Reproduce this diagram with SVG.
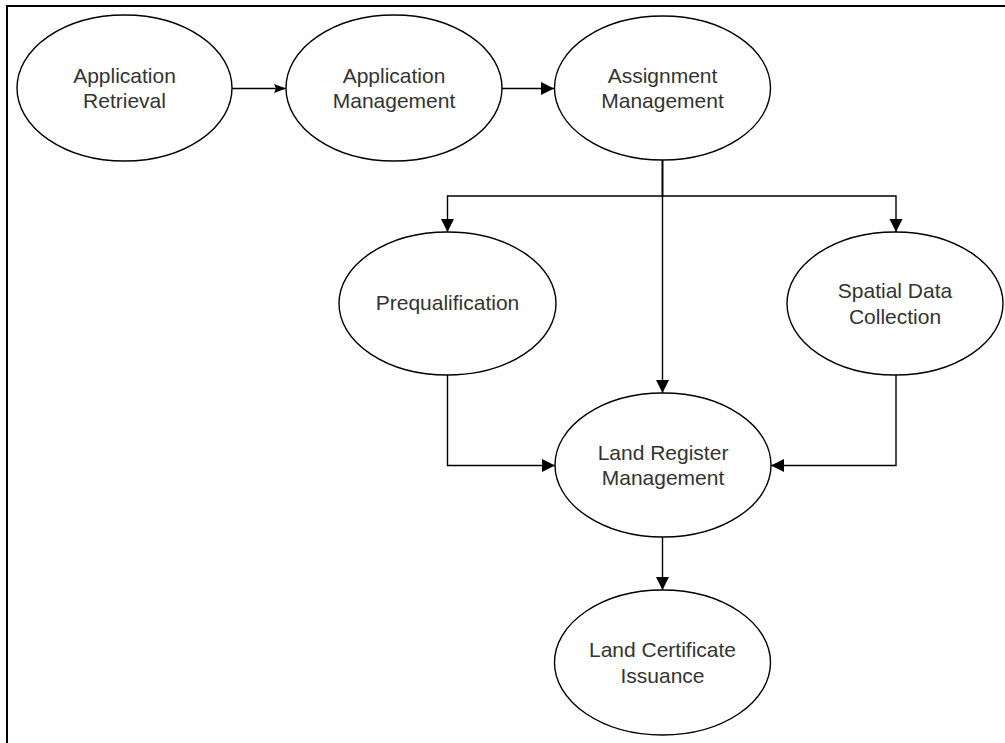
<svg xmlns="http://www.w3.org/2000/svg" width="1005" height="743" viewBox="0 0 1005 743">
<style>
.node ellipse{fill:#fff;stroke:#000;stroke-width:1.4}
.node text{font-family:"Liberation Sans",Arial,sans-serif;font-size:21px;fill:#333;text-anchor:middle}
.edge{fill:none;stroke:#000;stroke-width:1.4}
.frame{fill:none;stroke:#000;stroke-width:2}
</style>
<defs>
<marker id="ah" markerUnits="userSpaceOnUse" markerWidth="14" markerHeight="14" refX="13" refY="6.5" orient="auto">
<path d="M0,0 L13,6.5 L0,13 z" fill="#000"/>
</marker>
<marker id="ahs" markerUnits="userSpaceOnUse" markerWidth="14" markerHeight="10" refX="12" refY="4.5" orient="auto">
<path d="M0,0 L12,4.5 L0,9 L2,4.5 z" fill="#000"/>
</marker>
</defs>
<rect width="1005" height="743" fill="#fff"/>
<path class="frame" d="M7,743 L7,6 L1005,6"/>
<g id="connectors">
<path class="edge" d="M232,88.5 L286,88.5" marker-end="url(#ahs)"/>
<path class="edge" d="M502,88.5 L554,88.5" marker-end="url(#ah)"/>
<path class="edge" d="M662.5,160 L662.5,393" marker-end="url(#ah)"/>
<path class="edge" d="M662.5,160 L662.5,196 L447.5,196 L447.5,232" marker-end="url(#ah)"/>
<path class="edge" d="M662.5,160 L662.5,196 L896,196 L896,232" marker-end="url(#ah)"/>
<path class="edge" d="M447.5,375 L447.5,465.5 L555,465.5" marker-end="url(#ah)"/>
<path class="edge" d="M896,375 L896,465.5 L771,465.5" marker-end="url(#ah)"/>
<path class="edge" d="M662.5,537 L662.5,590" marker-end="url(#ah)"/>
</g>
<g id="n1" class="node"><ellipse cx="124.5" cy="88" rx="107.5" ry="73"/><text x="124.5" y="82.5">Application</text><text x="124.5" y="108">Retrieval</text></g>
<g id="n2" class="node"><ellipse cx="394" cy="88" rx="108" ry="73"/><text x="394" y="82.5">Application</text><text x="394" y="108">Management</text></g>
<g id="n3" class="node"><ellipse cx="662.5" cy="88" rx="108" ry="72"/><text x="662.5" y="82.5">Assignment</text><text x="662.5" y="108">Management</text></g>
<g id="n4" class="node"><ellipse cx="447.5" cy="303.5" rx="108.5" ry="71.5"/><text x="447.5" y="310">Prequalification</text></g>
<g id="n5" class="node"><ellipse cx="895" cy="303.5" rx="108" ry="71.5"/><text x="895" y="298">Spatial Data</text><text x="895" y="323.5">Collection</text></g>
<g id="n6" class="node"><ellipse cx="663" cy="465" rx="108" ry="72"/><text x="663" y="459.5">Land Register</text><text x="663" y="485">Management</text></g>
<g id="n7" class="node"><ellipse cx="662.5" cy="662.5" rx="108" ry="72.5"/><text x="662.5" y="657">Land Certificate</text><text x="662.5" y="682.5">Issuance</text></g>
</svg>
